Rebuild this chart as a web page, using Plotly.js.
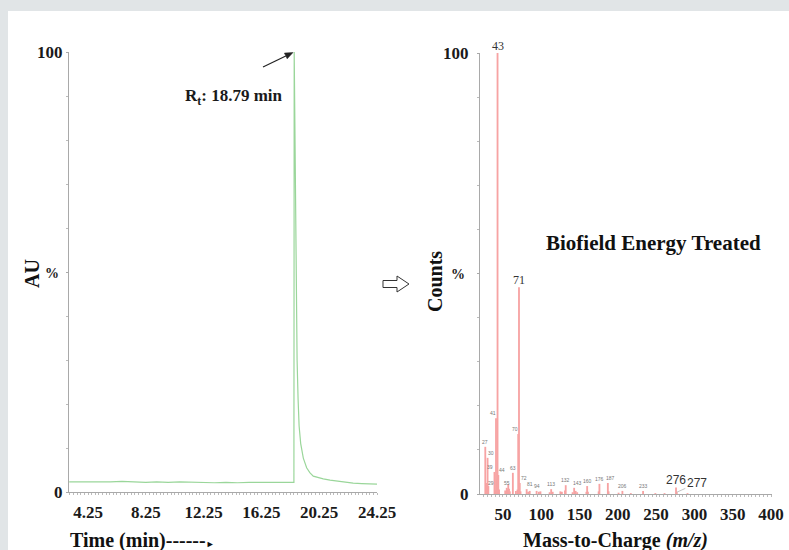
<!DOCTYPE html>
<html><head><meta charset="utf-8">
<script src="https://cdn.plot.ly/plotly-3.0.1.min.js"></script>
<style>
html,body{margin:0;padding:0;background:#e1e5e7;width:789px;height:550px;overflow:hidden}
#chart{position:absolute;left:8px;top:11px;width:781px;height:539px;background:#fff}
</style></head><body><div id="chart"></div>
<script>
// ---- Chromatogram (left) ----
const timeMin = [2.95, 3.6, 4.25, 5.0, 5.8, 6.6, 7.4, 8.25, 9.0, 9.8, 10.6, 11.4, 12.25, 13.0, 13.8, 14.6, 15.4, 16.25, 17.0, 17.8, 18.5, 18.52, 18.58, 18.65, 18.72, 18.79, 18.86, 18.97, 19.15, 19.38, 19.6, 19.84, 20.2, 20.53, 21.0, 21.46, 22.0, 22.6, 23.2, 23.8, 24.25];
const auPct   = [2.3, 2.3, 2.3, 2.2, 2.3, 2.4, 2.3, 2.2, 2.3, 2.2, 2.3, 2.2, 2.2, 2.1, 2.2, 2.1, 2.2, 2.2, 2.1, 2.2, 2.2, 100, 72, 45, 30, 21, 15, 11, 7.7, 5.5, 4.4, 3.6, 3.2, 3.0, 2.7, 2.5, 2.2, 2.0, 1.9, 1.9, 1.8];
const timeTicks = [4.25, 8.25, 12.25, 16.25, 20.25, 24.25];
const timeTickText = ['4.25', '8.25', '12.25', '16.25', '20.25', '24.25'];

// ---- Mass spectrum (right) ----
const mzPeaks  = [27, 28, 29, 30, 31, 39, 40, 41, 42, 43, 44, 45, 53, 55, 56, 57, 58, 59, 63, 67, 69, 70, 71, 72, 73, 81, 83, 85, 94, 97, 99, 111, 113, 115, 125, 127, 131, 132, 141, 143, 145, 147, 159, 160, 161, 175, 176, 187, 188, 201, 206, 217, 233, 249, 261, 276, 277, 291];
const mzCounts = [10.7, 2.5, 1.4, 8.2, 1.8, 5.0, 0.8, 17.2, 3.2, 100, 4.3, 1.0, 0.8, 1.4, 1.0, 2.2, 1.2, 0.6, 4.8, 0.7, 1.0, 13.6, 46.9, 2.5, 0.6, 1.1, 0.5, 0.7, 0.7, 0.5, 0.6, 0.4, 1.1, 0.5, 0.6, 0.5, 0.8, 2.0, 0.4, 1.4, 0.7, 0.4, 0.5, 1.8, 0.5, 0.6, 2.3, 2.5, 0.6, 0.3, 0.7, 0.2, 0.7, 0.2, 0.2, 1.5, 0.4, 0.2];
const mzSmallLabels = [27, 29, 30, 39, 41, 44, 55, 63, 70, 72, 81, 94, 113, 132, 143, 160, 176, 187, 206, 233];
const mzMainLabels = [43, 71];
const mzTicks = [50, 100, 150, 200, 250, 300, 350, 400];
const mzTickText = ['50', '100', '150', '200', '250', '300', '350', '400'];

const pctTickVals = [0, 50, 100];
const pctTickText = ['0', '<span style="font-size:14px">%\u00a0</span>', '100'];

// ---- layout helpers (reference pixel -> paper) ----
const W = 781, PH = 442;
const px = x => (x - 8) / W;
const py = y => (483 - (y - 11)) / PH;

const serif = 'Liberation Serif, Times New Roman, serif';
const sans = 'Liberation Sans, Arial, sans-serif';
const tickFont = {family: serif, size: 17, weight: 700, color: '#1a1a1a'};
const axLine = '#a9a9a9';
const countOf = m => mzCounts[mzPeaks.indexOf(m)];
// small pixel nudges for crowded peak labels (layout only)
const labelNudge = {29: [4, 0], 30: [3, 0], 39: [-4, 0], 41: [-3, 0], 44: [4, 0], 70: [-3, 0], 72: [4, 0], 81: [3, 0], 143: [3, 0], 187: [3, 0]};

const traces = [
  {type: 'scatter', mode: 'lines', x: timeMin, y: auPct, xaxis: 'x', yaxis: 'y',
   line: {color: '#9ad69a', width: 1.2}, hoverinfo: 'skip'},
  {type: 'bar', x: mzPeaks, y: mzCounts, xaxis: 'x2', yaxis: 'y2', width: 2.4,
   marker: {color: '#f7a3a3', line: {width: 0}}, hoverinfo: 'skip'}
];

const annotations = [];
annotations.push({xref: 'paper', yref: 'paper', x: px(233.5), y: py(97), text: 'R<sub>t</sub>: 18.79 min',
  showarrow: false, font: {family: serif, size: 17, weight: 700, color: '#1a1a1a'}, xanchor: 'center', yanchor: 'middle'});
mzMainLabels.forEach(m => annotations.push({xref: 'x2', yref: 'y2', x: m, y: countOf(m), text: String(m),
  showarrow: false, yanchor: 'bottom', xanchor: 'center', yshift: -2,
  font: {family: serif, size: 12, color: '#333'}}));
mzSmallLabels.forEach(m => {
  const n = labelNudge[m] || [0, 0];
  annotations.push({xref: 'x2', yref: 'y2', x: m, y: countOf(m), text: String(m),
    showarrow: false, yanchor: 'bottom', xanchor: 'center', xshift: n[0], yshift: n[1],
    font: {family: sans, size: 5, color: '#777'}});
});
annotations.push({xref: 'x2', yref: 'y2', x: 276, y: countOf(276), text: '276', showarrow: false,
  yanchor: 'bottom', xanchor: 'center', yshift: -2, font: {family: sans, size: 12, color: '#333'}});
annotations.push({xref: 'x2', yref: 'y2', x: 277, y: countOf(277), text: '277', showarrow: true,
  ax: 20, ay: -9, arrowhead: 0, arrowwidth: 0.7, arrowcolor: '#aaa', standoff: 0,
  font: {family: sans, size: 12, color: '#333'}});
annotations.push({xref: 'paper', yref: 'paper', x: px(653), y: py(243), text: 'Biofield Energy Treated',
  showarrow: false, font: {family: serif, size: 21, weight: 700, color: '#111'}, xanchor: 'center', yanchor: 'middle'});
annotations.push({xref: 'paper', yref: 'paper', x: px(142), y: py(540),
  text: 'Time (min)------<span style="font-size:9px">&#9658;</span>',
  showarrow: false, font: {family: serif, size: 20, weight: 700, color: '#111'}, xanchor: 'center', yanchor: 'middle'});
annotations.push({xref: 'paper', yref: 'paper', x: px(615), y: py(540), text: 'Mass-to-Charge <i>(m/z)</i>',
  showarrow: false, font: {family: serif, size: 20, weight: 700, color: '#111'}, xanchor: 'center', yanchor: 'middle'});
annotations.push({xref: 'paper', yref: 'paper', x: px(32), y: py(274), text: 'AU', textangle: -90,
  showarrow: false, font: {family: serif, size: 20, weight: 700, color: '#111'}, xanchor: 'center', yanchor: 'middle'});
annotations.push({xref: 'paper', yref: 'paper', x: px(435), y: py(282), text: 'Counts', textangle: -90,
  showarrow: false, font: {family: serif, size: 20, weight: 700, color: '#111'}, xanchor: 'center', yanchor: 'middle'});

// hollow arrow between panels
const ha0 = 383, ha1 = 397, ha2 = 409, hac = 284, hsh = 3.5, hhh = 8;
const hpts = [[ha0, hac - hsh], [ha1, hac - hsh], [ha1, hac - hhh], [ha2, hac], [ha1, hac + hhh], [ha1, hac + hsh], [ha0, hac + hsh]];
const toPath = pts => 'M' + pts.map(p => px(p[0]).toFixed(5) + ',' + py(p[1]).toFixed(5)).join(' L') + ' Z';

// pointer arrow to the peak apex (retention time)
const pTail = [263, 67], pTip = [293, 52.5];
const dx = pTip[0] - pTail[0], dy = pTip[1] - pTail[1], len = Math.hypot(dx, dy);
const ux = dx / len, uy = dy / len, hl = 8, hw = 3.2;
const base = [pTip[0] - ux * hl, pTip[1] - uy * hl];
const headPts = [pTip, [base[0] - uy * hw, base[1] + ux * hw], [base[0] + uy * hw, base[1] - ux * hw]];

const common = {showgrid: false, zeroline: false, showline: true, linecolor: axLine, linewidth: 1};

const layout = {
  width: 781, height: 539,
  margin: {l: 0, r: 0, t: 41, b: 56},
  paper_bgcolor: '#ffffff', plot_bgcolor: '#ffffff',
  showlegend: false, barmode: 'overlay',
  xaxis: Object.assign({}, common, {domain: [px(69), px(377)], range: [2.935, 24.25], anchor: 'y',
    tickmode: 'array', tickvals: timeTicks, ticktext: timeTickText, ticks: '', tickfont: tickFont,
    ticklabelstandoff: 5,
    minor: {tickmode: 'linear', tick0: 0, dtick: 0.25, ticks: 'outside', ticklen: 2, tickcolor: '#bbb', tickwidth: 1}}),
  yaxis: Object.assign({}, common, {domain: [py(492), 1], range: [0, 100], anchor: 'x',
    tickmode: 'array', tickvals: pctTickVals, ticktext: pctTickText, ticks: 'outside', ticklen: 2, tickcolor: axLine,
    tickfont: tickFont, ticklabelstandoff: 0,
    minor: {tickmode: 'linear', tick0: 0, dtick: 10, ticks: 'outside', ticklen: 2, tickcolor: '#bbb'}}),
  xaxis2: Object.assign({}, common, {domain: [px(480), px(772)], range: [20.1, 401.3], anchor: 'y2',
    tickmode: 'array', tickvals: mzTicks, ticktext: mzTickText, ticks: '', tickfont: tickFont,
    ticklabelstandoff: 5,
    minor: {tickmode: 'linear', tick0: 0, dtick: 5, ticks: 'outside', ticklen: 2, tickcolor: '#bbb', tickwidth: 1}}),
  yaxis2: Object.assign({}, common, {domain: [0, py(53)], range: [0, 100], anchor: 'x2',
    tickmode: 'array', tickvals: pctTickVals, ticktext: pctTickText, ticks: 'outside', ticklen: 2, tickcolor: axLine,
    tickfont: tickFont, ticklabelstandoff: 5,
    minor: {tickmode: 'linear', tick0: 0, dtick: 10, ticks: 'outside', ticklen: 2, tickcolor: '#bbb'}}),
  annotations: annotations,
  shapes: [
    {type: 'path', xref: 'paper', yref: 'paper', path: toPath(hpts), line: {color: '#333', width: 1}, fillcolor: '#ffffff'},
    {type: 'line', xref: 'paper', yref: 'paper', x0: px(pTail[0]), y0: py(pTail[1]), x1: px(base[0]), y1: py(base[1]),
     line: {color: '#222', width: 1.2}},
    {type: 'path', xref: 'paper', yref: 'paper', path: toPath(headPts), line: {color: '#222', width: 0.5}, fillcolor: '#222'}
  ]
};

Plotly.newPlot('chart', traces, layout, {staticPlot: true, displayModeBar: false});
</script>
</body></html>
